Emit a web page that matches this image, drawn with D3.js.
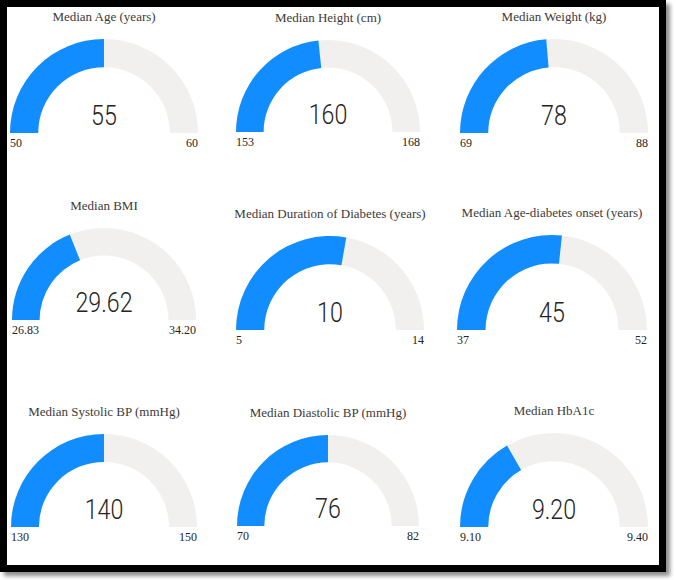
<!DOCTYPE html>
<html>
<head>
<meta charset="utf-8">
<script src="https://cdn.jsdelivr.net/npm/d3@7"></script>
<style>
  body { margin: 0; background: #fff; }
  .serif { font-family: "Liberation Serif", "Times New Roman", "DejaVu Serif", serif; }
  .num { font-family: "Roboto", sans-serif; font-weight: 300; }
</style>
</head>
<body>
<script>
// data
const titles = [
  "Median Age (years)",
  "Median Height (cm)",
  "Median Weight (kg)",
  "Median BMI",
  "Median Duration of Diabetes (years)",
  "Median Age-diabetes onset (years)",
  "Median Systolic BP (mmHg)",
  "Median Diastolic BP (mmHg)",
  "Median HbA1c",
];
const values = [55, 160, 78, 29.62, 10, 45, 140, 76, 9.2];
const minVals = [50, 153, 69, 26.83, 5, 37, 130, 70, 9.1];
const maxVals = [60, 168, 88, 34.2, 14, 52, 150, 82, 9.4];
const decimals = [0, 0, 0, 2, 0, 0, 0, 0, 2];
// ----------

// layout
const W = 676;
const H = 580;
// panel centre x, arc baseline y, outer radius
const panelPos = [
  [104, 133, 94], [328, 132, 92], [554, 133, 94],
  [104, 320, 92], [330, 330, 94], [552, 330, 95],
  [104, 527, 93], [328, 526, 91], [554, 527, 94],
];
const fillCol = "#118DFF";
const trackCol = "#F1F0EF";
const textCol = "#252423";
// ----------

const svg = d3
  .select("body")
  .append("svg")
  .attr("width", W)
  .attr("height", H);

// frame with drop shadow
const defs = svg.append("defs");
const shadow = defs.append("filter").attr("id", "shadow")
  .attr("x", "-5%").attr("y", "-5%").attr("width", "115%").attr("height", "115%");
shadow.append("feDropShadow")
  .attr("dx", 4).attr("dy", 4).attr("stdDeviation", 2)
  .attr("flood-color", "#000").attr("flood-opacity", 0.45);

svg.append("rect")
  .attr("x", 3.5).attr("y", 3.5)
  .attr("width", 659).attr("height", 565)
  .attr("fill", "#fff")
  .attr("stroke", "#000")
  .attr("stroke-width", 7)
  .attr("filter", "url(#shadow)");
// ----------

const fmt = (v, d) => v.toFixed(d);

titles.forEach((t, i) => {
  const [cx, by, R] = panelPos[i];
  const angle = d3.scaleLinear()
    .domain([minVals[i], maxVals[i]])
    .range([-Math.PI / 2, Math.PI / 2]);
  const arc = d3.arc().innerRadius(R * 0.7).outerRadius(R);

  const g = svg.append("g").attr("transform", `translate(${cx}, ${by})`);

  g.append("path")
    .attr("d", arc({ startAngle: angle(minVals[i]), endAngle: angle(maxVals[i]) }))
    .attr("fill", trackCol);
  g.append("path")
    .attr("d", arc({ startAngle: angle(minVals[i]), endAngle: angle(values[i]) }))
    .attr("fill", fillCol);

  g.append("text")
    .attr("class", "serif")
    .text(t)
    .attr("x", 0).attr("y", -R - 18)
    .attr("text-anchor", "middle")
    .attr("font-size", 13)
    .attr("fill", "#3b3a39");

  g.append("text")
    .attr("class", "num")
    .text(fmt(values[i], decimals[i]))
    .attr("transform", "translate(0, -8) scale(0.86, 1)")
    .attr("text-anchor", "middle")
    .attr("font-size", 27)
    .attr("fill", textCol);

  g.append("text")
    .attr("class", "serif")
    .text(fmt(minVals[i], decimals[i]))
    .attr("x", -R).attr("y", 14)
    .attr("text-anchor", "start")
    .attr("font-size", 12)
    .attr("fill", textCol);

  g.append("text")
    .attr("class", "serif")
    .text(fmt(maxVals[i], decimals[i]))
    .attr("x", R).attr("y", 14)
    .attr("text-anchor", "end")
    .attr("font-size", 12)
    .attr("fill", textCol);
});
</script>
</body>
</html>
